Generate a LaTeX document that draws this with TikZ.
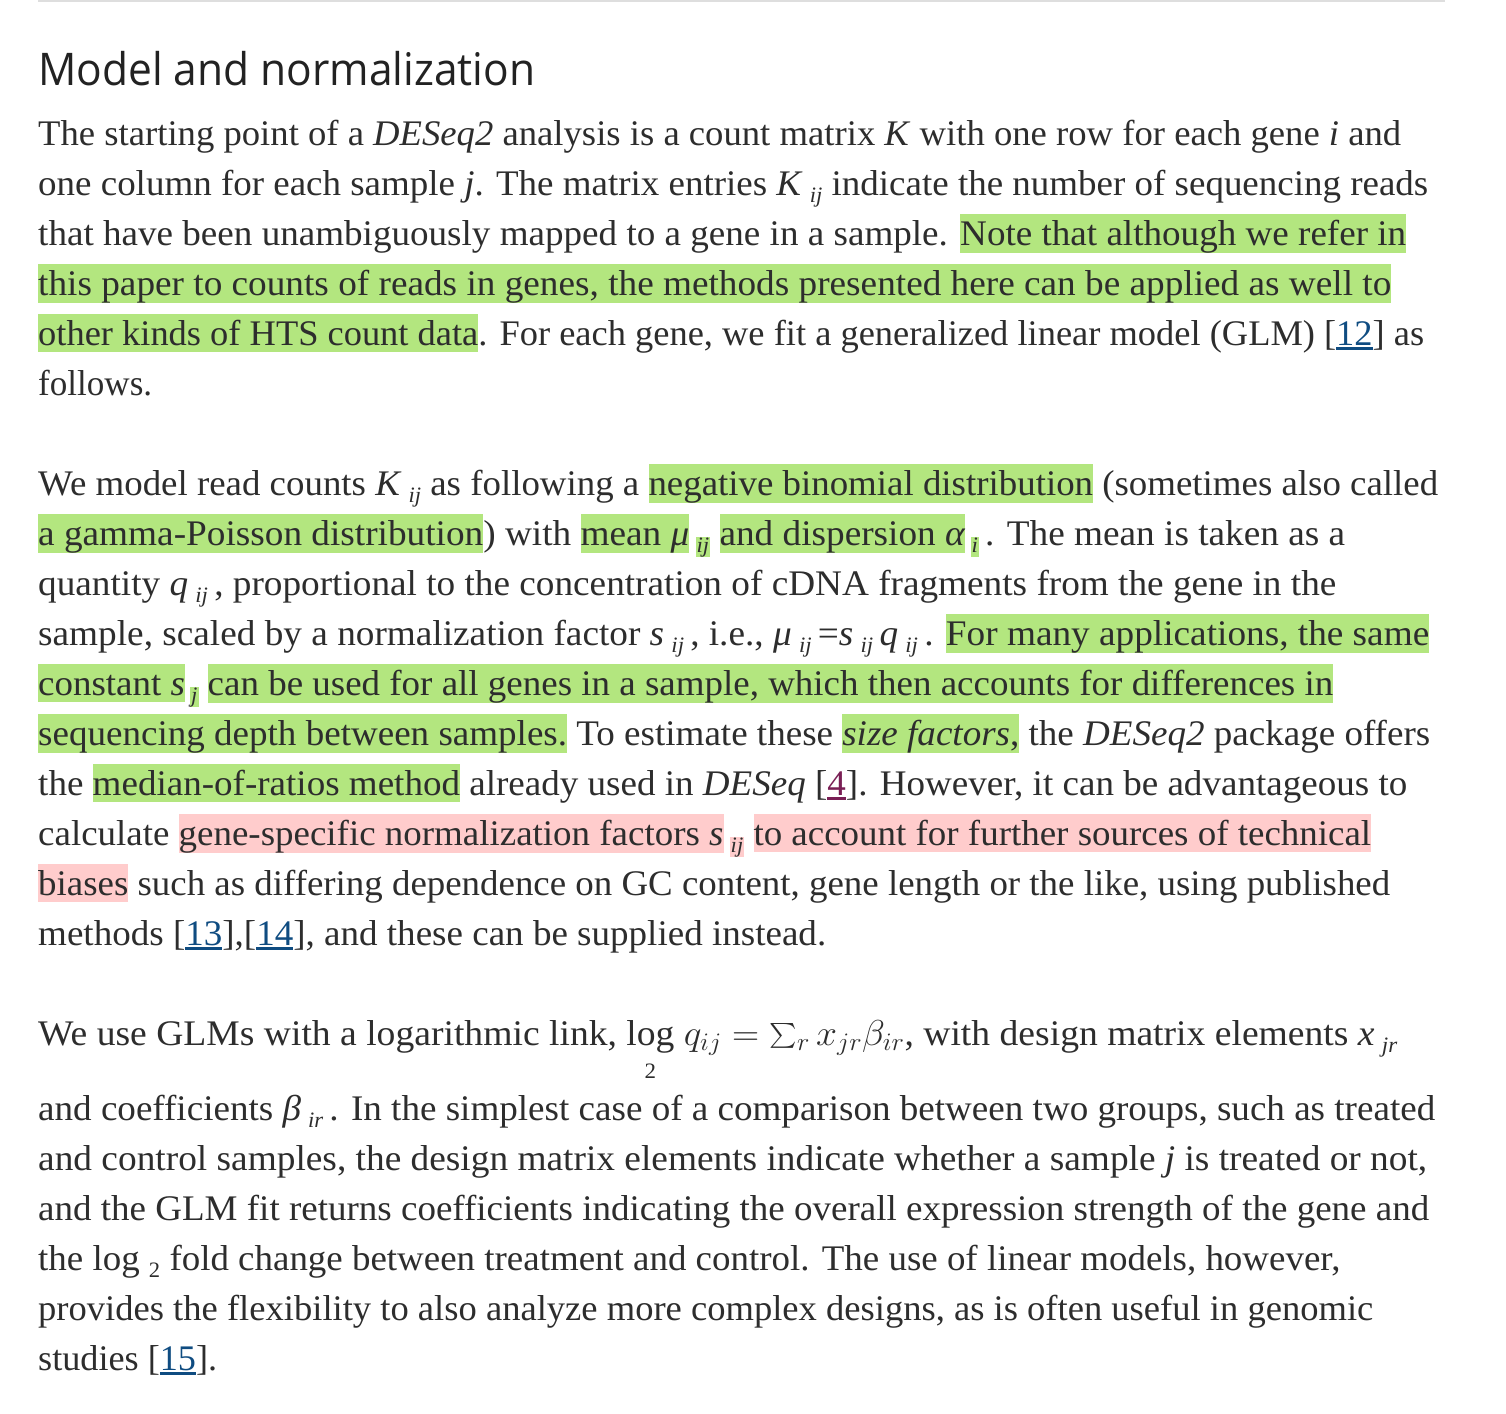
\RequirePackage{fix-cm}
\documentclass[tikz,border=0pt]{standalone}
\usepackage{exscale}
\usepackage{fontspec}
\usepackage{graphicx}
\setmainfont{Liberation Serif}
\newfontfamily\titlefont{Open Sans}
\definecolor{textcol}{RGB}{45,45,45}
\definecolor{titlecol}{RGB}{34,34,34}
\definecolor{hlgreen}{RGB}{179,230,127}
\definecolor{hlpink}{RGB}{255,204,204}
\definecolor{linkblue}{RGB}{15,76,129}
\definecolor{linkvisit}{RGB}{122,31,85}
\definecolor{rulegray}{RGB}{222,222,222}
\newsavebox\lnkbox
\newsavebox\logbox
\newcommand\fitline[2]{\resizebox{#1pt}{\height}{#2}}
\newcommand\sub[1]{\raisebox{-7pt}{\fontsize{22}{22}\selectfont\itshape #1}}
\newcommand\subup[1]{\raisebox{-7pt}{\fontsize{22}{22}\selectfont #1}}
\newcommand\hlbox[2]{{\setlength\fboxsep{0pt}\colorbox{#1}{\vrule height 31pt depth 7pt width 0pt#2}}}
\newcommand\hg[1]{\hlbox{hlgreen}{#1}}
\newcommand\hp[1]{\hlbox{hlpink}{#1}}
\newcommand\hsbox[2]{{\setlength\fboxsep{0pt}\colorbox{#1}{\vrule height 8pt depth 12pt width 0pt\hspace{1pt}\sub{#2}\hspace{1pt}}}}
\newcommand\hgs[1]{\hsbox{hlgreen}{#1}}
\newcommand\hps[1]{\hsbox{hlpink}{#1}}
\newcommand\lnk[2][linkblue]{{\color{#1}\sbox\lnkbox{#2}\rlap{\rule[-5pt]{\wd\lnkbox}{3pt}}\usebox\lnkbox}}
\newcommand\logtwo{\sbox\logbox{log}\rlap{\makebox[\wd\logbox]{\raisebox{-33pt}[0pt][0pt]{\fontsize{22}{22}\selectfont 2}}}\usebox\logbox}
\tikzset{
  txt/.style={anchor=base west, inner sep=0pt, font=\fontsize{36}{50}\selectfont, text=textcol},
  ttl/.style={anchor=base west, inner sep=0pt, font=\titlefont\fontsize{45}{54}\selectfont, text=titlecol}
}
\begin{document}
\begin{tikzpicture}[x=1pt,y=-1pt]
\useasboundingbox (0,0) rectangle (1506,1413);
\fill[white] (0,0) rectangle (1506,1413);
\coordinate (r1) at (38,1);
\coordinate (r2) at (1445,1);
\draw[rulegray, line width=2pt] (r1) -- (r2);
\node[ttl] (title) at (38,85) {\fitline{497}{Model and normalization}};
% paragraph 1
\node[txt] (l1) at (38,145) {\fitline{1363}{The starting point of a \textit{DESeq2} analysis is a count matrix \textit{K} with one row for each gene \textit{i} and}};
\node[txt] (l2) at (38,195) {\fitline{1390}{one column for each sample \textit{j}. The matrix entries \textit{K}\hspace{7pt}\sub{ij} indicate the number of sequencing reads}};
\node[txt] (l3) at (38,245) {\fitline{1368}{that have been unambiguously mapped to a gene in a sample. \hg{Note that although we refer in}}};
\node[txt] (l4) at (38,295) {\fitline{1353}{\hg{this paper to counts of reads in genes, the methods presented here can be applied as well to}}};
\node[txt] (l5) at (38,345) {\fitline{1386}{\hg{other kinds of HTS count data}. For each gene, we fit a generalized linear model (GLM) [\lnk{12}] as}};
\node[txt] (l6) at (38,395) {\fitline{114}{follows.}};
% paragraph 2
\node[txt] (l7) at (38,495) {\fitline{1400}{We model read counts \textit{K}\hspace{7pt}\sub{ij} as following a \hg{negative binomial distribution} (sometimes also called}};
\node[txt] (l8) at (38,545) {\fitline{1307}{\hg{a gamma-Poisson distribution}) with \hg{mean \textit{μ}}\hspace{6pt}\hgs{ij} \hg{and dispersion \textit{α}}\hspace{5pt}\hgs{i}\,. The mean is taken as a}};
\node[txt] (l9) at (38,595) {\fitline{1298}{quantity \textit{q}\hspace{7pt}\sub{ij}\,, proportional to the concentration of cDNA fragments from the gene in the}};
\node[txt] (l10) at (38,645) {\fitline{1391}{sample, scaled by a normalization factor \textit{s}\hspace{7pt}\sub{ij}\,, i.e., \textit{μ}\hspace{7pt}\sub{ij}\,=\textit{s}\hspace{7pt}\sub{ij}\,\textit{q}\hspace{7pt}\sub{ij}\,. \hg{For many applications, the same}}};
\node[txt] (l11) at (38,695) {\fitline{1295}{\hg{constant \textit{s}}\hspace{5pt}\hgs{j} \hg{can be used for all genes in a sample, which then accounts for differences in}}};
\node[txt] (l12) at (38,745) {\fitline{1392}{\hg{sequencing depth between samples.} To estimate these \hg{\textit{size factors},} the \textit{DESeq2} package offers}};
\node[txt] (l13) at (38,795) {\fitline{1369}{the \hg{median-of-ratios method} already used in \textit{DESeq} [\lnk[linkvisit]{4}]. However, it can be advantageous to}};
\node[txt] (l14) at (38,845) {\fitline{1333}{calculate \hp{gene-specific normalization factors \textit{s}}\hspace{6pt}\hps{ij} \hp{to account for further sources of technical}}};
\node[txt] (l15) at (38,895) {\fitline{1352}{\hp{biases} such as differing dependence on GC content, gene length or the like, using published}};
\node[txt] (l16) at (38,945) {\fitline{788}{methods [\lnk{13}],[\lnk{14}], and these can be supplied instead.}};
% paragraph 3
\node[txt] (l17) at (38,1045) {\fitline{1359}{We use GLMs with a logarithmic link, \logtwo\ $q_{ij} = \sum_r x_{jr}\beta_{ir}$, with design matrix elements \textit{x}\hspace{7pt}\sub{jr}}};
\node[txt] (l18) at (38,1120) {\fitline{1397}{and coefficients \textit{β}\hspace{7pt}\sub{ir}\,. In the simplest case of a comparison between two groups, such as treated}};
\node[txt] (l19) at (38,1170) {\fitline{1389}{and control samples, the design matrix elements indicate whether a sample \textit{j} is treated or not,}};
\node[txt] (l20) at (38,1220) {\fitline{1391}{and the GLM fit returns coefficients indicating the overall expression strength of the gene and}};
\node[txt] (l21) at (38,1270) {\fitline{1302}{the log \subup{2} fold change between treatment and control. The use of linear models, however,}};
\node[txt] (l22) at (38,1320) {\fitline{1335}{provides the flexibility to also analyze more complex designs, as is often useful in genomic}};
\node[txt] (l23) at (38,1370) {\fitline{179}{studies [\lnk{15}].}};
\end{tikzpicture}
\end{document}
